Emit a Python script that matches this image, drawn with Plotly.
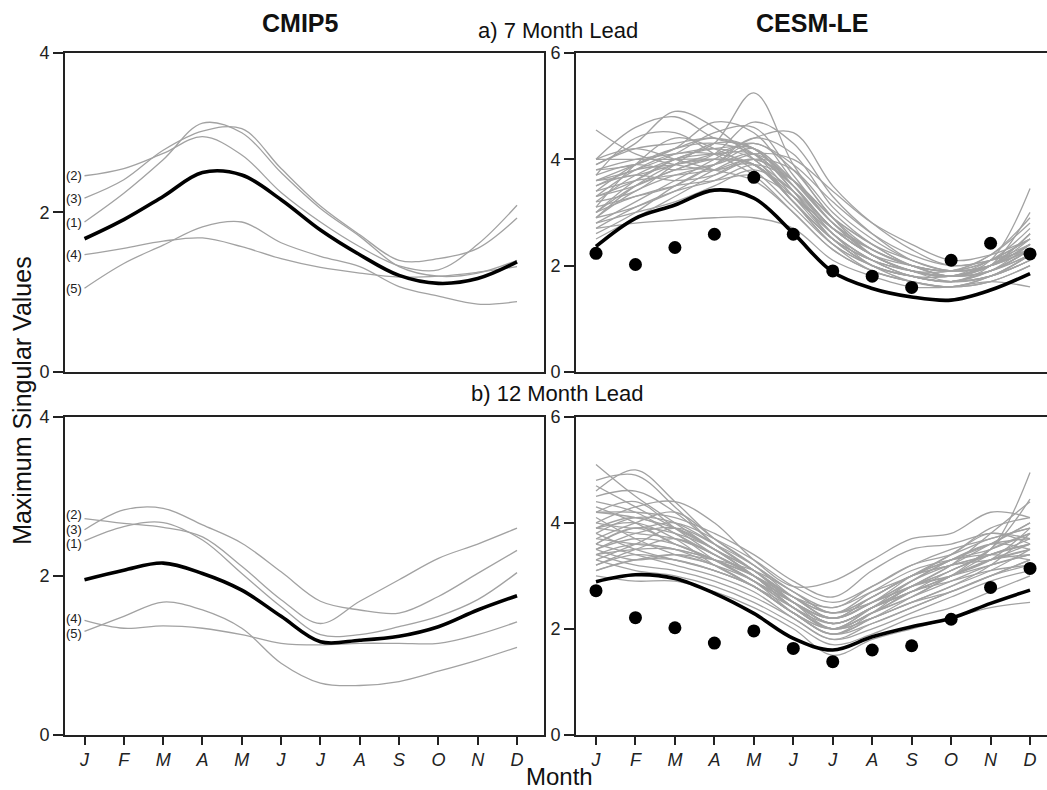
import plotly.graph_objects as go

months = ["J", "F", "M", "A", "M", "J", "J", "A", "S", "O", "N", "D"]
mx = list(range(12))

# ---- CMIP5, 7 month lead ----
cmip_a_mean = [1.67, 1.91, 2.20, 2.50, 2.47, 2.16, 1.78, 1.47, 1.21, 1.11, 1.17, 1.38]
cmip_a_models = {
    "(2)": [2.46, 2.55, 2.74, 2.95, 2.72, 2.25, 1.88, 1.57, 1.33, 1.28, 1.60, 2.09],
    "(3)": [2.18, 2.41, 2.78, 3.02, 3.05, 2.55, 2.08, 1.72, 1.40, 1.42, 1.55, 1.93],
    "(1)": [1.88, 2.24, 2.66, 3.12, 3.00, 2.50, 2.05, 1.70, 1.32, 1.20, 1.24, 1.40],
    "(4)": [1.47, 1.55, 1.64, 1.68, 1.57, 1.42, 1.31, 1.24, 1.19, 1.20, 1.25, 1.32],
    "(5)": [1.05, 1.36, 1.59, 1.82, 1.88, 1.62, 1.45, 1.32, 1.07, 0.95, 0.85, 0.88],
}

# ---- CMIP5, 12 month lead ----
cmip_b_mean = [1.95, 2.07, 2.16, 2.03, 1.82, 1.49, 1.17, 1.19, 1.24, 1.36, 1.57, 1.75]
cmip_b_models = {
    "(2)": [2.72, 2.66, 2.61, 2.49, 2.12, 1.70, 1.40, 1.68, 1.95, 2.22, 2.40, 2.60],
    "(3)": [2.58, 2.83, 2.85, 2.64, 2.41, 2.05, 1.68, 1.57, 1.53, 1.74, 2.03, 2.32],
    "(1)": [2.44, 2.62, 2.67, 2.45, 2.03, 1.61, 1.26, 1.26, 1.36, 1.49, 1.70, 2.04],
    "(4)": [1.44, 1.34, 1.37, 1.34, 1.26, 1.15, 1.13, 1.15, 1.15, 1.15, 1.26, 1.42],
    "(5)": [1.30, 1.49, 1.67, 1.57, 1.34, 0.90, 0.65, 0.62, 0.67, 0.80, 0.94, 1.10],
}

# ---- CESM-LE, 7 month lead ----
cesm_a_mean = [2.36, 2.89, 3.14, 3.42, 3.27, 2.61, 1.88, 1.57, 1.41, 1.35, 1.54, 1.85]
cesm_a_obs = [2.23, 2.02, 2.34, 2.59, 3.66, 2.59, 1.90, 1.80, 1.59, 2.10, 2.42, 2.22]
cesm_a_members = [
    [4.55, 4.10, 3.90, 3.80, 3.90, 3.20, 2.50, 2.10, 1.90, 1.80, 1.90, 2.30],
    [4.00, 4.60, 4.80, 4.40, 4.20, 3.50, 2.70, 2.20, 1.90, 1.70, 1.80, 2.20],
    [3.90, 4.30, 4.90, 4.60, 4.00, 3.40, 2.60, 2.00, 1.80, 1.70, 1.90, 2.40],
    [3.60, 3.90, 4.20, 4.70, 4.50, 3.60, 2.80, 2.30, 2.00, 1.80, 2.00, 2.60],
    [3.30, 3.60, 4.00, 4.30, 5.25, 3.90, 2.90, 2.20, 1.90, 1.80, 2.10, 2.50],
    [3.00, 3.50, 3.80, 4.10, 4.70, 4.30, 3.30, 2.60, 2.10, 1.90, 2.00, 2.40],
    [2.80, 3.20, 3.60, 4.00, 4.40, 4.50, 3.50, 2.80, 2.30, 2.00, 2.10, 2.30],
    [2.70, 2.80, 2.85, 2.90, 2.90, 2.70, 2.10, 1.80, 1.60, 1.60, 1.70, 1.60],
    [3.50, 3.80, 3.90, 4.00, 3.90, 3.30, 2.60, 2.10, 1.80, 1.70, 1.90, 2.30],
    [3.20, 3.70, 4.00, 4.10, 4.10, 3.40, 2.50, 2.00, 1.70, 1.60, 1.80, 2.20],
    [3.80, 4.00, 4.10, 4.20, 4.00, 3.20, 2.40, 1.90, 1.70, 1.60, 1.70, 2.00],
    [2.90, 3.40, 3.70, 3.90, 4.20, 3.50, 2.70, 2.20, 1.90, 1.80, 2.00, 2.50],
    [3.10, 3.90, 4.40, 4.20, 3.80, 3.10, 2.40, 2.00, 1.80, 1.70, 1.80, 2.10],
    [3.40, 3.60, 3.70, 3.80, 4.00, 3.60, 2.90, 2.40, 2.10, 1.90, 2.00, 2.40],
    [4.00, 4.00, 4.00, 4.00, 3.90, 3.20, 2.40, 2.00, 1.80, 1.80, 2.00, 2.60],
    [2.60, 3.00, 3.50, 3.90, 4.30, 3.80, 2.90, 2.30, 2.00, 1.90, 2.10, 2.70],
    [3.70, 4.40, 4.50, 4.10, 3.70, 3.00, 2.30, 1.90, 1.70, 1.60, 1.80, 2.20],
    [3.00, 3.30, 3.50, 3.60, 3.70, 3.30, 2.70, 2.30, 2.00, 1.90, 2.10, 2.50],
    [3.60, 3.80, 4.10, 4.50, 4.60, 3.70, 2.80, 2.20, 1.90, 1.80, 2.00, 2.40],
    [2.90, 3.10, 3.40, 3.80, 4.10, 4.00, 3.40, 2.80, 2.40, 2.10, 2.20, 2.50],
    [3.30, 3.50, 3.80, 4.00, 3.90, 3.20, 2.50, 2.10, 1.90, 1.90, 2.20, 2.80],
    [3.90, 4.20, 4.30, 4.40, 4.20, 3.50, 2.60, 2.10, 1.80, 1.70, 1.80, 2.10],
    [2.50, 2.90, 3.30, 3.70, 4.00, 3.50, 2.70, 2.20, 1.90, 1.80, 2.00, 2.30],
    [3.50, 3.70, 3.60, 3.70, 4.00, 3.80, 3.00, 2.40, 2.00, 1.80, 1.90, 2.30],
    [3.20, 3.40, 3.90, 4.30, 4.20, 3.40, 2.50, 2.00, 1.80, 1.70, 2.00, 3.00],
    [3.70, 3.90, 3.80, 3.90, 4.10, 3.60, 2.80, 2.20, 1.90, 1.80, 2.10, 3.45],
    [2.80, 3.00, 3.20, 3.50, 3.80, 3.40, 2.70, 2.20, 1.90, 1.80, 1.90, 2.20],
    [3.40, 3.90, 4.20, 4.30, 4.10, 3.50, 2.70, 2.20, 2.00, 1.90, 2.20, 2.90],
    [3.10, 3.30, 3.50, 3.90, 4.40, 4.10, 3.10, 2.50, 2.10, 1.90, 2.00, 2.30],
    [4.00, 4.20, 4.00, 3.80, 3.60, 3.00, 2.30, 1.90, 1.70, 1.60, 1.70, 2.00],
    [2.90, 3.50, 3.90, 4.00, 3.90, 3.30, 2.60, 2.10, 1.80, 1.70, 1.80, 2.10],
    [3.60, 3.70, 3.90, 4.10, 4.30, 3.90, 3.20, 2.60, 2.20, 2.00, 2.10, 2.40],
    [3.30, 3.80, 4.10, 4.10, 3.90, 3.20, 2.50, 2.10, 1.90, 1.80, 2.00, 2.60],
    [2.70, 3.10, 3.40, 3.60, 3.90, 3.60, 2.90, 2.40, 2.00, 1.90, 2.00, 2.30],
    [3.80, 3.90, 4.20, 4.40, 4.10, 3.30, 2.50, 2.00, 1.80, 1.70, 1.90, 2.20],
    [3.00, 3.60, 4.00, 4.20, 4.20, 3.60, 2.80, 2.30, 2.00, 1.80, 2.00, 2.40],
]

# ---- CESM-LE, 12 month lead ----
cesm_b_mean = [2.89, 3.02, 2.95, 2.67, 2.29, 1.82, 1.60, 1.85, 2.04, 2.20, 2.48, 2.73]
cesm_b_obs = [2.72, 2.21, 2.02, 1.73, 1.96, 1.63, 1.38, 1.60, 1.68, 2.18, 2.78, 3.14]
cesm_b_members = [
    [5.10, 4.50, 4.00, 3.50, 3.00, 2.50, 2.20, 2.60, 3.00, 3.30, 3.60, 4.00],
    [4.80, 4.90, 4.30, 3.60, 3.10, 2.60, 2.30, 2.50, 2.80, 3.10, 3.50, 4.95],
    [4.60, 5.00, 4.40, 3.70, 3.20, 2.70, 2.40, 2.80, 3.20, 3.40, 3.70, 3.90],
    [4.20, 4.20, 4.10, 3.80, 3.40, 2.90, 2.60, 3.10, 3.50, 3.60, 3.80, 3.70],
    [4.00, 4.30, 4.40, 4.00, 3.30, 2.80, 2.90, 3.30, 3.70, 3.80, 4.20, 4.10],
    [3.80, 4.10, 4.00, 3.60, 3.10, 2.50, 2.10, 2.40, 2.80, 3.20, 3.80, 4.40],
    [3.60, 3.90, 3.80, 3.50, 3.00, 2.40, 2.00, 2.30, 2.60, 3.00, 3.30, 3.60],
    [3.50, 3.70, 3.60, 3.30, 2.90, 2.30, 1.90, 2.20, 2.50, 2.80, 3.10, 3.50],
    [3.40, 3.50, 3.50, 3.30, 3.00, 2.50, 2.10, 2.40, 2.70, 3.00, 3.30, 3.40],
    [3.20, 3.40, 3.30, 3.10, 2.80, 2.30, 1.90, 2.10, 2.40, 2.70, 3.00, 3.30],
    [3.00, 2.90, 2.90, 2.70, 2.40, 2.00, 1.50, 1.80, 2.00, 2.20, 2.40, 2.50],
    [3.90, 3.80, 3.70, 3.40, 3.00, 2.50, 2.20, 2.60, 3.00, 3.30, 3.50, 3.80],
    [4.10, 3.70, 3.40, 3.20, 2.80, 2.40, 2.00, 2.30, 2.70, 3.10, 3.40, 3.60],
    [3.70, 4.00, 4.20, 3.70, 3.20, 2.60, 2.20, 2.50, 2.90, 3.30, 3.60, 3.50],
    [4.30, 4.00, 3.60, 3.30, 2.90, 2.40, 2.10, 2.40, 2.80, 3.20, 3.60, 4.00],
    [3.30, 3.60, 3.90, 3.60, 3.20, 2.70, 2.30, 2.70, 3.10, 3.30, 3.40, 3.30],
    [3.60, 3.40, 3.20, 3.00, 2.70, 2.20, 1.80, 2.10, 2.40, 2.70, 3.00, 3.20],
    [4.50, 4.60, 4.20, 3.60, 3.10, 2.60, 2.30, 2.60, 3.00, 3.20, 3.40, 3.70],
    [3.10, 3.30, 3.40, 3.20, 2.90, 2.40, 2.00, 2.20, 2.50, 2.80, 3.20, 3.80],
    [3.80, 3.50, 3.30, 3.10, 2.80, 2.30, 1.90, 2.30, 2.80, 3.00, 3.20, 3.40],
    [4.20, 4.40, 3.90, 3.40, 3.00, 2.60, 2.40, 2.70, 3.00, 3.40, 3.90, 4.10],
    [3.50, 3.80, 3.90, 3.50, 3.10, 2.50, 2.00, 2.30, 2.60, 2.90, 3.20, 3.40],
    [3.90, 4.10, 3.80, 3.30, 2.90, 2.50, 2.20, 2.50, 2.90, 3.20, 3.30, 3.50],
    [3.40, 3.20, 3.10, 2.90, 2.60, 2.20, 1.80, 2.00, 2.30, 2.60, 2.90, 3.10],
    [4.00, 3.90, 4.00, 3.70, 3.30, 2.80, 2.50, 2.80, 3.20, 3.50, 3.70, 3.90],
    [3.70, 3.60, 3.50, 3.20, 2.80, 2.30, 2.00, 2.40, 2.90, 3.30, 3.60, 3.70],
    [4.40, 4.20, 3.80, 3.40, 3.00, 2.50, 2.10, 2.40, 2.80, 3.10, 3.50, 4.45],
    [3.20, 3.50, 3.70, 3.40, 3.00, 2.40, 2.00, 2.20, 2.50, 2.70, 3.00, 3.30],
    [3.60, 3.90, 3.60, 3.30, 3.00, 2.60, 2.20, 2.50, 3.00, 3.40, 3.80, 3.60],
    [3.30, 3.10, 3.00, 2.80, 2.50, 2.10, 1.70, 1.90, 2.20, 2.40, 2.70, 3.00],
    [4.70, 4.30, 3.90, 3.50, 3.10, 2.60, 2.20, 2.50, 2.80, 3.00, 3.30, 3.50],
    [3.50, 3.30, 3.40, 3.30, 3.10, 2.70, 2.30, 2.60, 3.00, 3.20, 3.40, 3.60],
    [3.90, 4.00, 3.70, 3.20, 2.80, 2.30, 1.90, 2.20, 2.60, 3.00, 3.50, 3.80],
    [3.10, 3.30, 3.30, 3.10, 2.80, 2.30, 2.00, 2.30, 2.70, 2.90, 3.10, 3.20],
    [4.20, 4.10, 3.90, 3.50, 3.00, 2.40, 2.00, 2.40, 2.70, 3.00, 3.30, 3.90],
    [3.40, 3.60, 3.50, 3.30, 2.90, 2.50, 2.10, 2.40, 2.70, 3.00, 3.40, 3.60],
]

GRAY = "#a2a2a2"
FONT = "Liberation Sans, Arial, sans-serif"
W, H = 1047, 790

fig = go.Figure()

def px_x(p):
    return p / W

def px_y(p):
    # vertical placement calibrated against the photographed page
    q = (p - 10.0) / 0.975
    return 1 - q / H

def add_gray(xa, ya, series):
    for s in series:
        fig.add_trace(go.Scatter(x=mx, y=s, mode="lines", xaxis=xa, yaxis=ya,
                                 line=dict(color=GRAY, width=1.3, shape="spline", smoothing=1.0),
                                 showlegend=False, hoverinfo="skip"))

def add_mean(xa, ya, s):
    fig.add_trace(go.Scatter(x=mx, y=s, mode="lines", xaxis=xa, yaxis=ya,
                             line=dict(color="black", width=3.6, shape="spline", smoothing=1.0),
                             showlegend=False, hoverinfo="skip"))

def add_obs(xa, ya, s):
    fig.add_trace(go.Scatter(x=mx, y=s, mode="markers", xaxis=xa, yaxis=ya,
                             marker=dict(color="black", size=13),
                             showlegend=False, hoverinfo="skip"))

add_gray("x", "y", list(cmip_a_models.values()))
add_mean("x", "y", cmip_a_mean)
add_gray("x3", "y3", list(cmip_b_models.values()))
add_mean("x3", "y3", cmip_b_mean)

add_gray("x2", "y2", cesm_a_members)
add_mean("x2", "y2", cesm_a_mean)
add_obs("x2", "y2", cesm_a_obs)
add_gray("x4", "y4", cesm_b_members)
add_mean("x4", "y4", cesm_b_mean)
add_obs("x4", "y4", cesm_b_obs)

tickfont = dict(family=FONT, size=18, color="#222")
LINE = dict(showline=True, linecolor="#222", linewidth=2)

left_dom = [px_x(65), px_x(544)]
right_dom = [px_x(576), 1.0]
top_dom = [px_y(372), px_y(53)]
bot_dom = [px_y(735), px_y(417)]
left_rng = [-0.496, 11.686]
right_rng = [-0.507, 11.43]

month_text = ["<i>%s</i>" % m for m in months]

def xaxis(dom, rng, anchor, show_ticks):
    d = dict(domain=dom, range=rng, anchor=anchor, mirror=True, showgrid=False,
             zeroline=False, fixedrange=True, **LINE)
    if show_ticks:
        d.update(tickmode="array", tickvals=mx, ticktext=month_text, ticks="outside",
                 ticklen=8, tickwidth=2, tickcolor="#222", tickfont=tickfont)
    else:
        d.update(showticklabels=False, ticks="")
    return d

def yaxis(dom, rng, anchor, vals, mirror):
    return dict(domain=dom, range=rng, anchor=anchor, mirror=mirror, showgrid=False,
                zeroline=False, fixedrange=True, tickmode="array", tickvals=vals,
                ticks="outside", ticklen=10, tickwidth=2, tickcolor="#222",
                tickfont=tickfont, **LINE)

fig.update_layout(
    width=W, height=H,
    margin=dict(l=0, r=0, t=0, b=0),
    paper_bgcolor="white", plot_bgcolor="white",
    showlegend=False,
    xaxis=xaxis(left_dom, left_rng, "y", False),
    yaxis=yaxis(top_dom, [0, 4], "x", [0, 2, 4], True),
    xaxis2=xaxis(right_dom, right_rng, "y2", False),
    yaxis2=yaxis(top_dom, [0, 6], "x2", [0, 2, 4, 6], False),
    xaxis3=xaxis(left_dom, left_rng, "y3", True),
    yaxis3=yaxis(bot_dom, [0, 4], "x3", [0, 2, 4], True),
    xaxis4=xaxis(right_dom, right_rng, "y4", True),
    yaxis4=yaxis(bot_dom, [0, 6], "x4", [0, 2, 4, 6], False),
)

label_font = dict(family=FONT, size=13, color="#222")
ann = []
for name, s in cmip_a_models.items():
    ann.append(dict(x=0, y=s[0], xref="x", yref="y", text=name, showarrow=False,
                    xanchor="right", yanchor="middle", xshift=-1, font=label_font))
b_shift = {"(2)": 4, "(3)": 0, "(1)": -3, "(4)": 2, "(5)": -2}
for name, s in cmip_b_models.items():
    ann.append(dict(x=0, y=s[0], xref="x3", yref="y3", text=name, showarrow=False,
                    xanchor="right", yanchor="middle", xshift=-1, yshift=b_shift[name],
                    font=label_font))

def ptext(text, x, y, size, bold=False, angle=0):
    return dict(x=px_x(x), y=px_y(y), xref="paper", yref="paper",
                text=("<b>%s</b>" % text) if bold else text, showarrow=False,
                xanchor="center", yanchor="middle", textangle=angle,
                font=dict(family=FONT, size=size, color="#111"))

ann += [
    ptext("CMIP5", 300, 23, 25, bold=True),
    ptext("CESM-LE", 812, 23, 25, bold=True),
    ptext("a) 7 Month Lead", 558, 31, 22),
    ptext("b) 12 Month Lead", 557, 394, 22),
    ptext("Maximum Singular Values", 22, 401, 25, angle=-90),
    ptext("Month", 559, 777, 24),
]
fig.update_layout(annotations=ann)

fig.write_html("out.html", config={"displayModeBar": False},
               post_script="document.body.style.margin='0';")
